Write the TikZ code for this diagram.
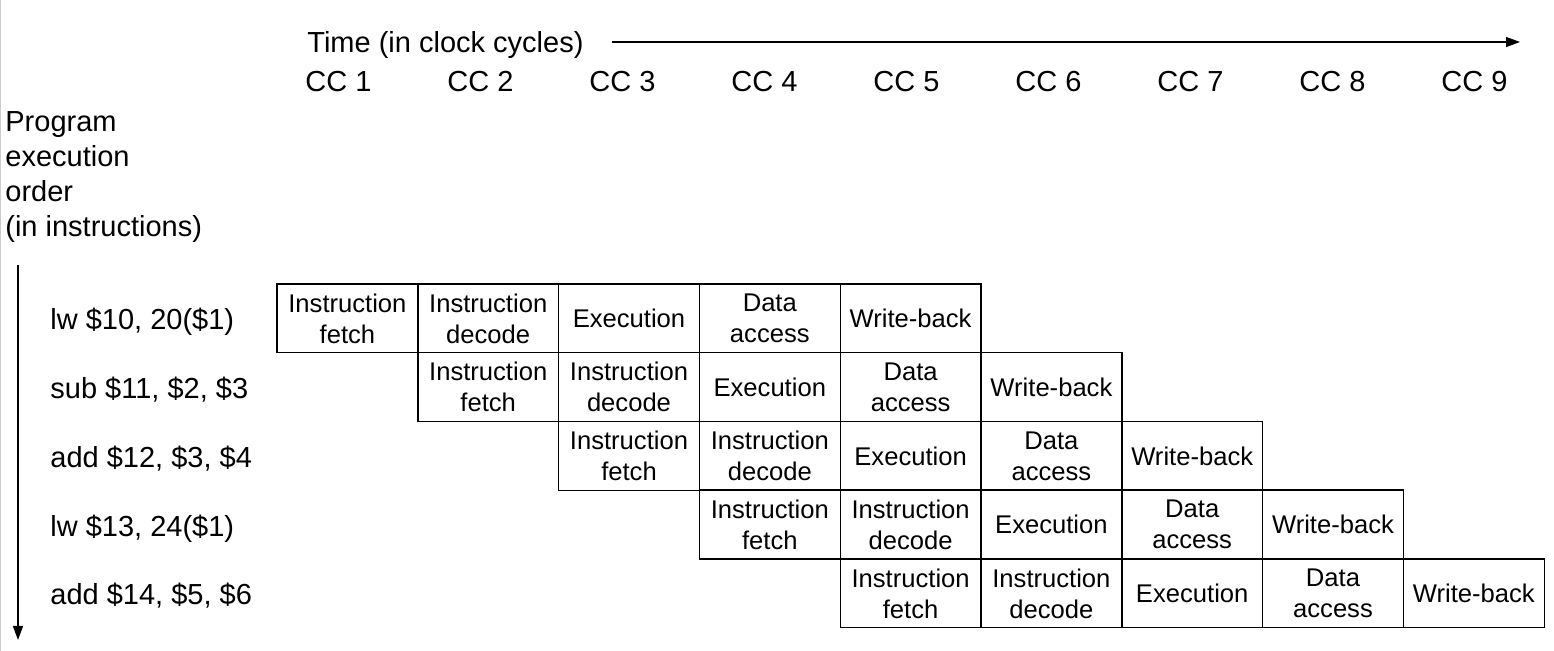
\documentclass[tikz,border=0pt]{standalone}
\usepackage{fontspec}
\setmainfont{Liberation Sans}
\usetikzlibrary{arrows.meta}

\tikzset{
  stagebox/.style={draw, line width=0.7pt, minimum width=70.4pt, minimum height=34.4pt,
    inner sep=0pt, align=center, font=\fontsize{12.8}{15.5}\selectfont},
  axislabel/.style={inner sep=0pt, font=\fontsize{14.5}{17.5}\selectfont},
}

\begin{document}
\begin{tikzpicture}[x=0.5pt,y=-0.5pt]
\useasboundingbox (0,0) rectangle (1554,651);
\draw[gray!40,line width=0.6pt] (0.6,0) -- (0.6,651);

% Time axis
\node[axislabel,anchor=base west] (time) at (307,53) {Time (in clock cycles)};
\coordinate (tstart) at (612,42);
\coordinate (tend) at (1520,42);
\draw[line width=0.7pt,-{Triangle[length=7pt,width=5pt]}] (tstart) -- (tend);

% Clock cycles
\node[axislabel,anchor=base] (cc1) at (338.5,92) {CC 1};
\node[axislabel,anchor=base] (cc2) at (480.5,92) {CC 2};
\node[axislabel,anchor=base] (cc3) at (622.5,92) {CC 3};
\node[axislabel,anchor=base] (cc4) at (764.5,92) {CC 4};
\node[axislabel,anchor=base] (cc5) at (906.5,92) {CC 5};
\node[axislabel,anchor=base] (cc6) at (1048.5,92) {CC 6};
\node[axislabel,anchor=base] (cc7) at (1190.5,92) {CC 7};
\node[axislabel,anchor=base] (cc8) at (1332.5,92) {CC 8};
\node[axislabel,anchor=base] (cc9) at (1474.5,92) {CC 9};

% Program order axis
\node[axislabel,anchor=north west,align=left] (order) at (5,111)
  {Program\\execution\\order\\(in instructions)};
\coordinate (otop) at (18,265);
\coordinate (obot) at (18,640);
\draw[line width=0.7pt,-{Triangle[length=7pt,width=5pt]}] (otop) -- (obot);

% Instructions
\node[axislabel,anchor=base west] (ins1) at (50,330) {lw \$10, 20(\$1)};
\node[axislabel,anchor=base west] (ins2) at (50,398.8) {sub \$11, \$2, \$3};
\node[axislabel,anchor=base west] (ins3) at (50,467.5) {add \$12, \$3, \$4};
\node[axislabel,anchor=base west] (ins4) at (50,536.3) {lw \$13, 24(\$1)};
\node[axislabel,anchor=base west] (ins5) at (50,605) {add \$14, \$5, \$6};

% lw $10, 20($1)
\node[stagebox] (if1) at (347.4,318.4) {Instruction\\fetch};
\node[stagebox] (id1) at (488.2,318.4) {Instruction\\decode};
\node[stagebox] (ex1) at (629.0,318.4) {Execution};
\node[stagebox] (ma1) at (769.8,318.4) {Data\\access};
\node[stagebox] (wb1) at (910.6,318.4) {Write-back};

% sub $11, $2, $3
\node[stagebox] (if2) at (488.2,387.1) {Instruction\\fetch};
\node[stagebox] (id2) at (629.0,387.1) {Instruction\\decode};
\node[stagebox] (ex2) at (769.8,387.1) {Execution};
\node[stagebox] (ma2) at (910.6,387.1) {Data\\access};
\node[stagebox] (wb2) at (1051.4,387.1) {Write-back};

% add $12, $3, $4
\node[stagebox] (if3) at (629.0,455.9) {Instruction\\fetch};
\node[stagebox] (id3) at (769.8,455.9) {Instruction\\decode};
\node[stagebox] (ex3) at (910.6,455.9) {Execution};
\node[stagebox] (ma3) at (1051.4,455.9) {Data\\access};
\node[stagebox] (wb3) at (1192.2,455.9) {Write-back};

% lw $13, 24($1)
\node[stagebox] (if4) at (769.8,524.6) {Instruction\\fetch};
\node[stagebox] (id4) at (910.6,524.6) {Instruction\\decode};
\node[stagebox] (ex4) at (1051.4,524.6) {Execution};
\node[stagebox] (ma4) at (1192.2,524.6) {Data\\access};
\node[stagebox] (wb4) at (1333.0,524.6) {Write-back};

% add $14, $5, $6
\node[stagebox] (if5) at (910.6,593.4) {Instruction\\fetch};
\node[stagebox] (id5) at (1051.4,593.4) {Instruction\\decode};
\node[stagebox] (ex5) at (1192.2,593.4) {Execution};
\node[stagebox] (ma5) at (1333.0,593.4) {Data\\access};
\node[stagebox] (wb5) at (1473.8,593.4) {Write-back};
\end{tikzpicture}
\end{document}
